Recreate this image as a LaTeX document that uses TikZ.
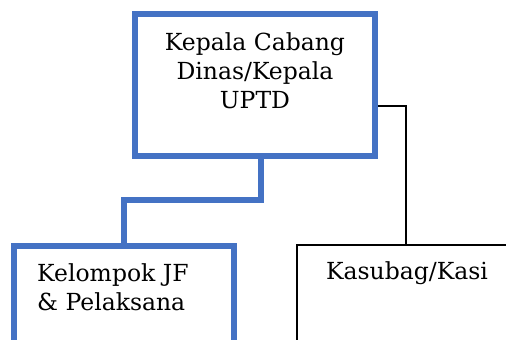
\documentclass[tikz,border=0pt]{standalone}
\usepackage{fontspec}
\setmainfont{DejaVu Serif}
\definecolor{boxblue}{HTML}{4472C4}
\begin{document}
\begin{tikzpicture}[x=1pt,y=-1pt,
  bluebox/.style={draw=boxblue,line width=6pt,rectangle,inner sep=0pt},
  blackbox/.style={draw=black,line width=1.2pt,rectangle,inner sep=0pt},
  blueline/.style={draw=boxblue,line width=6pt},
  blackline/.style={draw=black,line width=1.2pt},
  lbl/.style={font=\fontsize{23.5}{29}\selectfont,inner sep=0pt}]
\useasboundingbox (0,0) rectangle (506,340);
\clip (0,0) rectangle (506,340);
\node[bluebox,minimum width=240pt,minimum height=142pt] (top) at (255,85) {};
\node[bluebox,minimum width=220pt,minimum height=124pt] (kel) at (124,308) {};
\node[blackbox,minimum width=223pt,minimum height=125pt] (kas) at (408.5,307.5) {};
\node[lbl,align=center,anchor=north] (toptext) at (255,32) {Kepala Cabang\\Dinas/Kepala\\UPTD};
\node[lbl,align=left,anchor=north west] (keltext) at (37,263) {Kelompok JF\\\& Pelaksana};
\node[lbl,anchor=north] (kastext) at (407,261) {Kasubag/Kasi};
\coordinate (j1) at (261,200);
\coordinate (j2) at (406,106);
\draw[blueline] (top.south -| j1) -- (j1) -| (kel.north);
\draw[blackline] (top.east |- j2) -| (kas.north -| j2);
\end{tikzpicture}
\end{document}
